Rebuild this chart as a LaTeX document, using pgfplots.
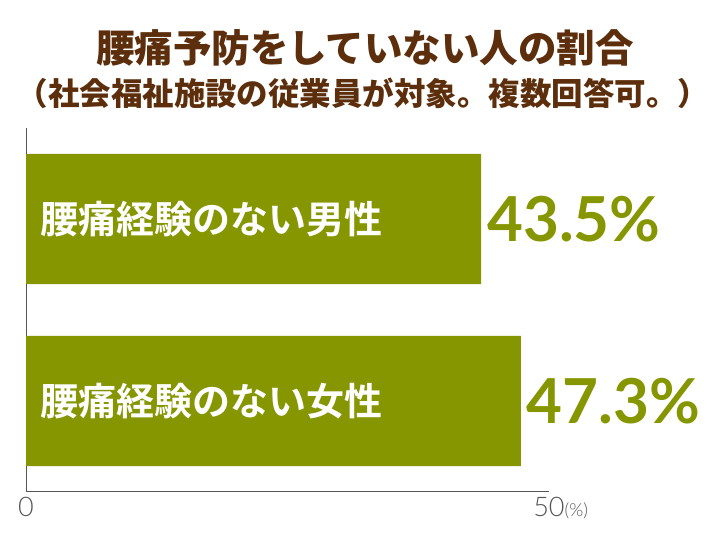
\documentclass[border=0pt]{standalone}
\usepackage{fontspec}
\usepackage{pgfplots}
\pgfplotsset{compat=1.18}
\setmainfont{Lato}
\IfFontExistsTF{Noto Sans CJK JP Black}
  {\newfontfamily\jptitle{Noto Sans CJK JP Black}}
  {\newfontfamily\jptitle{Noto Sans CJK JP}[UprightFont=* Bold]}
\IfFontExistsTF{Noto Sans CJK JP Bold}
  {\newfontfamily\jpbar{Noto Sans CJK JP Bold}}
  {\newfontfamily\jpbar{Noto Sans CJK JP}}
\IfFontExistsTF{Lato Light}
  {\newfontfamily\thin{Lato Light}}
  {\newfontfamily\thin{Lato}}
\definecolor{olive}{RGB}{133,150,0}
\definecolor{titlebrown}{RGB}{92,46,12}
\definecolor{axisgray}{RGB}{85,85,85}

\begin{document}
\begin{tikzpicture}[x=1pt,y=1pt]
  \useasboundingbox (0,0) rectangle (726,545);
  % title, two lines
  \node[titlebrown, anchor=center] at (365,497)
    {\jptitle\fontsize{38.5}{40}\selectfont 腰痛予防をしていない人の割合};
  \node[titlebrown, anchor=center] at (363,452)
    {\jptitle\fontsize{31.5}{34}\selectfont （社会福祉施設の従業員が対象。複数回答可。）};

  \begin{axis}[
    at={(26pt,53pt)}, anchor=south west,
    scale only axis, width=523pt, height=364pt,
    xbar, bar width=0.715, bar shift=0pt,
    xmin=0, xmax=50, ymin=0.5, ymax=2.5,
    axis lines=left,
    axis line style={axisgray, line width=1pt, -},
    xtick={0,50}, xticklabels={0, 50\rlap{\fontsize{18}{20}\selectfont(\%)}},
    xticklabel style={font=\thin\fontsize{27}{30}\selectfont, text=axisgray, yshift=-2pt},
    ytick=\empty,
    major tick length=0pt,
    clip=false,
    /pgf/number format/assume math mode=true,
    nodes near coords={\pgfmathprintnumber[fixed,precision=1,fixed zerofill,assume math mode=true]{\pgfplotspointmeta}\%},
    nodes near coords align=horizontal,
    every node near coord/.append style={
      font=\fontsize{62}{64}\selectfont\bfseries, text=olive,
      anchor=west, inner sep=0pt, xshift=6pt},
  ]
    \addplot[fill=olive, draw=none] coordinates {(43.5,2) (47.3,1)};

    % category names inside the bars
    \node[anchor=west, text=white, inner sep=0pt] at (axis cs:0,2)
      [xshift=14pt] {\jpbar\fontsize{38}{40}\selectfont 腰痛経験のない男性};
    \node[anchor=west, text=white, inner sep=0pt] at (axis cs:0,1)
      [xshift=14pt] {\jpbar\fontsize{38}{40}\selectfont 腰痛経験のない女性};
  \end{axis}
\end{tikzpicture}
\end{document}
